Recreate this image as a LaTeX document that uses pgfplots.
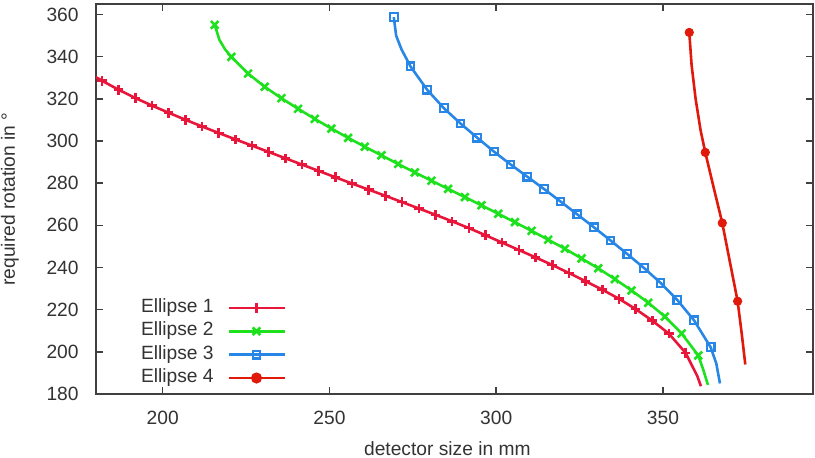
\documentclass[border=0pt]{standalone}
\usepackage{fontspec}
\setmainfont{Liberation Sans}
\usepackage{pgfplots}
\usepackage{pgfplotstable}
\pgfplotsset{compat=1.18}
\definecolor{eone}{RGB}{232,22,58}
\definecolor{etwo}{RGB}{30,225,30}
\definecolor{ethree}{RGB}{40,135,230}
\definecolor{efour}{RGB}{225,25,10}
\definecolor{axgray}{RGB}{64,64,64}

\pgfplotstableread{
x y
179.0 331.2
181.8 328.6
186.8 324.3
191.8 320.4
196.8 316.8
201.8 313.4
206.8 310.1
211.8 306.9
216.8 303.8
221.8 300.8
226.8 297.8
231.8 294.8
236.8 291.8
241.8 288.8
246.8 285.8
251.8 282.8
256.8 279.8
261.8 276.9
266.8 274.0
271.8 271.0
276.8 268.0
281.8 265.0
286.8 261.9
291.8 258.7
296.8 255.3
301.8 251.8
306.8 248.3
311.8 244.8
316.8 241.2
321.8 237.4
326.8 233.5
331.8 229.5
336.8 225.2
341.8 220.3
346.8 214.8
351.8 208.6
356.8 199.5
358.8 193.2
360.3 188.5
361.4 183.7
}\eoneline

\pgfplotstableread{
x y
215.6 355.1
217.0 348.0
218.7 343.5
220.6 339.9
225.6 332.0
230.6 325.7
235.6 320.3
240.6 315.3
245.6 310.5
250.6 305.9
255.6 301.5
260.6 297.3
265.6 293.2
270.6 289.1
275.6 285.1
280.6 281.2
285.6 277.3
290.6 273.4
295.6 269.5
300.6 265.5
305.6 261.5
310.6 257.4
315.6 253.2
320.6 248.9
325.6 244.3
330.6 239.6
335.6 234.5
340.6 229.1
345.6 223.3
350.6 216.7
355.6 208.7
360.6 198.3
362.2 191.0
363.5 184.3
}\etwoline

\pgfplotstableread{
x y
215.6 355.1
220.6 339.9
225.6 332.0
230.6 325.7
235.6 320.3
240.6 315.3
245.6 310.5
250.6 305.9
255.6 301.5
260.6 297.3
265.6 293.2
270.6 289.1
275.6 285.1
280.6 281.2
285.6 277.3
290.6 273.4
295.6 269.5
300.6 265.5
305.6 261.5
310.6 257.4
315.6 253.2
320.6 248.9
325.6 244.3
330.6 239.6
335.6 234.5
340.6 229.1
345.6 223.3
350.6 216.7
355.6 208.7
360.6 198.3
}\etwomarks

\pgfplotstableread{
x y
269.3 358.8
270.0 350.0
271.6 343.5
274.3 335.4
279.3 324.3
284.3 315.6
289.3 308.3
294.3 301.6
299.3 295.0
304.3 288.9
309.3 283.1
314.3 277.3
319.3 271.3
324.3 265.2
329.3 259.1
334.3 252.8
339.3 246.4
344.3 239.8
349.3 232.7
354.3 224.6
359.3 215.0
364.3 202.2
366.0 194.5
367.1 185.0
}\ethreeline

\pgfplotstableread{
x y
269.3 358.8
274.3 335.4
279.3 324.3
284.3 315.6
289.3 308.3
294.3 301.6
299.3 295.0
304.3 288.9
309.3 283.1
314.3 277.3
319.3 271.3
324.3 265.2
329.3 259.1
334.3 252.8
339.3 246.4
344.3 239.8
349.3 232.7
354.3 224.6
359.3 215.0
364.3 202.2
}\ethreemarks

\pgfplotstableread{
x y
357.9 351.5
358.6 336.0
359.8 320.0
361.3 305.0
362.7 294.6
365.2 278.0
367.8 261.1
370.1 242.5
372.4 224.0
373.6 209.0
374.7 194.0
}\efourline

\pgfplotstableread{
x y
357.9 351.5
362.7 294.6
367.8 261.1
372.4 224.0
}\efourmarks

\begin{document}
\begin{tikzpicture}[font=\fontsize{9.6}{11.5}\selectfont]
\useasboundingbox (-48pt,-32pt) rectangle (359.5pt,197pt);
\begin{axis}[
  scale only axis, width=358.5pt, height=195pt,
  xmin=180, xmax=395, ymin=180, ymax=365,
  xtick={200,250,300,350}, ytick={180,200,...,360},
  tick align=inside, major tick length=3.5pt,
  axis line style={draw=axgray, line width=0.8pt},
  every tick/.style={axgray, line width=0.8pt},
  /pgf/number format/assume math mode=true,
  tick label style={font=\fontsize{9.6}{11.5}\selectfont, text=black!80, inner sep=0pt},
  yticklabel style={xshift=-8.5pt},
  xticklabel style={yshift=-8.3pt},
  xlabel={detector size in mm},
  ylabel={required rotation in °},
  label style={text=black!80},
  xlabel style={at={(axis description cs:0.49,-0.159)}, anchor=base, inner sep=0pt},
  ylabel style={at={(axis description cs:-0.113,0.5)}, anchor=base, inner sep=0pt},
  legend style={draw=none, fill=none, at={(axis description cs:0.0628,0.0174)}, anchor=south west,
    inner sep=0pt, outer sep=0pt, row sep=2.5pt, column sep=6.8pt,
    nodes={inner sep=0pt, text height=6.9pt, text depth=2.3pt, text=black!80},
    font=\fontsize{9.6}{11.5}\selectfont},
  legend cell align=left,
  legend plot pos=right,
  legend image code/.code={\draw[mark repeat=2,mark phase=2,#1] plot coordinates {(0pt,0pt)(14pt,0pt)(28pt,0pt)};},
]
\addplot[eone, line width=1.3pt, mark=none,
  legend image post style={mark=+, mark size=2.4pt, mark options={line width=1.3pt}}] table {\eoneline};
\addlegendentry{Ellipse 1}
\addplot[eone, only marks, mark=+, mark size=2.4pt, mark options={line width=1.3pt}, forget plot,
  restrict x to domain=181:357] table {\eoneline};

\addplot[etwo, line width=1.3pt, mark=none,
  legend image post style={mark=x, mark size=2.7pt, mark options={line width=1.3pt}}] table {\etwoline};
\addlegendentry{Ellipse 2}
\addplot[etwo, only marks, mark=x, mark size=2.7pt, mark options={line width=1.3pt}, forget plot] table {\etwomarks};

\addplot[ethree, line width=1.3pt, mark=none,
  legend image post style={mark=square, mark size=1.9pt, mark options={line width=1.1pt}}] table {\ethreeline};
\addlegendentry{Ellipse 3}
\addplot[ethree, only marks, mark=square, mark size=1.9pt, mark options={line width=1.1pt}, forget plot] table {\ethreemarks};

\addplot[efour, line width=1.3pt, mark=none,
  legend image post style={mark=*, mark size=2.1pt}] table {\efourline};
\addlegendentry{Ellipse 4}
\addplot[efour, only marks, mark=*, mark size=2.1pt, forget plot] table {\efourmarks};
\end{axis}
\end{tikzpicture}
\end{document}
